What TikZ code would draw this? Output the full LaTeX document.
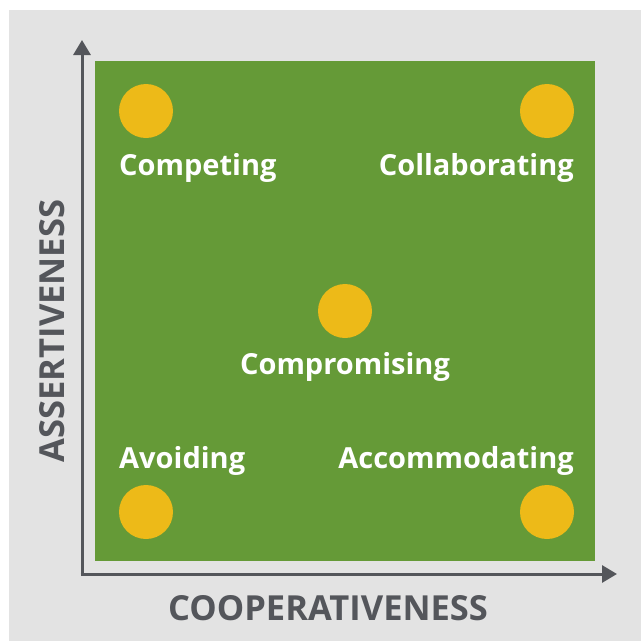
\documentclass[tikz,border=0pt]{standalone}
\usepackage{fontspec}
\setmainfont{Open Sans}
\usetikzlibrary{arrows.meta}
\definecolor{bggrey}{HTML}{E3E3E3}
\definecolor{fieldgreen}{HTML}{659A37}
\definecolor{dotyellow}{HTML}{EDBA18}
\definecolor{axisgrey}{HTML}{54565B}
\begin{document}
\begin{tikzpicture}[x=1pt,y=-1pt,
  dot/.style={circle,fill=dotyellow,minimum size=54pt,inner sep=0pt},
  lbl/.style={text=white,font=\bfseries\fontsize{29}{34}\selectfont,inner sep=0pt},
  axlbl/.style={text=axisgrey,font=\bfseries\fontsize{34.5}{40}\selectfont,inner sep=0pt},
  axis/.style={draw=axisgrey,line width=3pt,-{Triangle[length=15pt,width=17pt]}}]
\useasboundingbox (0,0) rectangle (641,641);
\fill[bggrey] (9,10) rectangle (641,641);
\fill[fieldgreen] (95,61) rectangle (595,561);
\coordinate (origin) at (82,574);
\coordinate (ytip) at (82,40);
\coordinate (xtip) at (617,574);
\draw[axis] (82,575.5) -- (ytip);
\draw[axis] (80.5,574) -- (xtip);
\node[dot] (d1) at (146,111) {};
\node[dot] (d2) at (547,111) {};
\node[dot] (d3) at (345,311) {};
\node[dot] (d4) at (146,512) {};
\node[dot] (d5) at (547,512) {};
\node[lbl,anchor=base west] (competing) at (119,175) {Competing};
\node[lbl,anchor=base east] (collab) at (574,175) {Collaborating};
\node[lbl,anchor=base] (compro) at (345,374) {Compromising};
\node[lbl,anchor=base west] (avoid) at (119,468) {Avoiding};
\node[lbl,anchor=base east] (accom) at (574,468) {Accommodating};
\node[axlbl,rotate=90] (assert) at (52.5,331) {ASSERTIVENESS};
\node[axlbl,anchor=base] (coop) at (328,620) {COOPERATIVENESS};
\end{tikzpicture}
\end{document}
